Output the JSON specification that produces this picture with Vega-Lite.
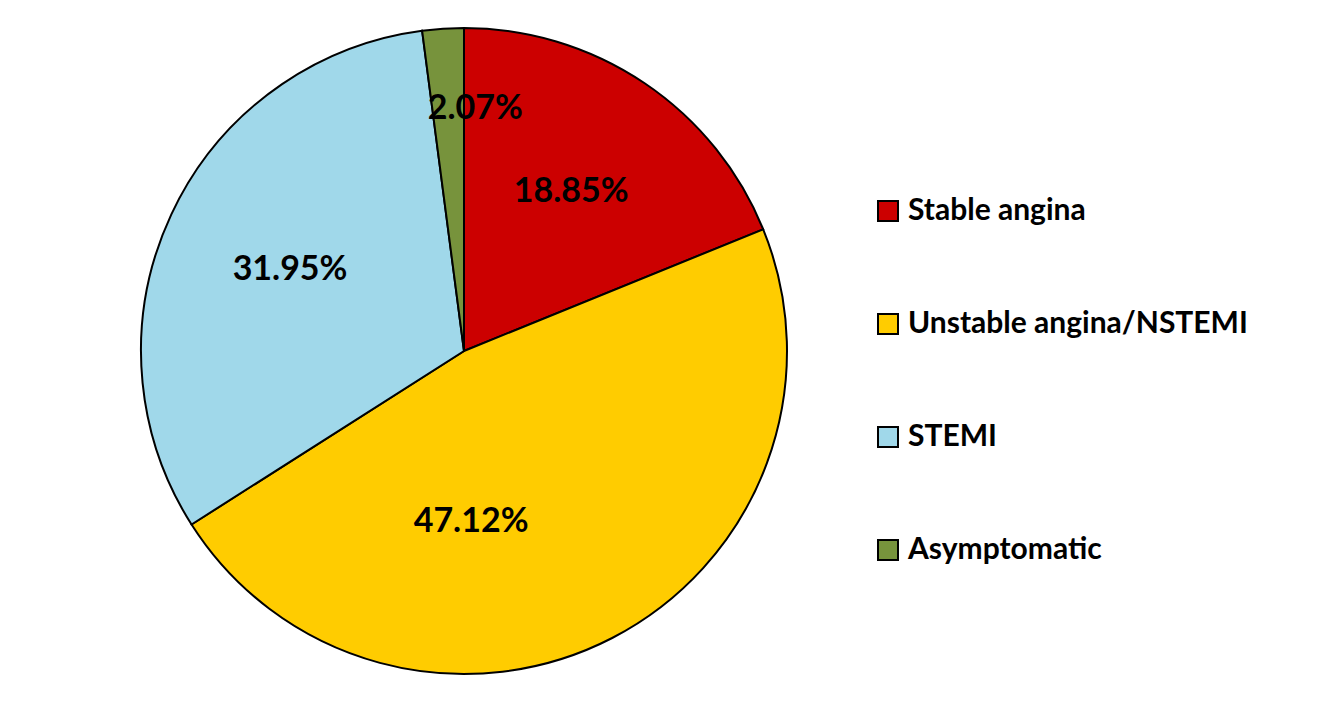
{
  "$schema": "https://vega.github.io/schema/vega-lite/v6.json",
  "width": 928,
  "height": 702,
  "autosize": {"type": "none"},
  "padding": {"left": 0, "top": 0, "right": 404, "bottom": 0},
  "background": "white",
  "config": {"view": {"stroke": null}, "font": "Lato"},
  "data": {
    "values": [
      {"category": "Stable angina", "value": 18.85, "label": "18.85%", "order": 1},
      {"category": "Unstable angina/NSTEMI", "value": 47.12, "label": "47.12%", "order": 2},
      {"category": "STEMI", "value": 31.95, "label": "31.95%", "order": 3},
      {"category": "Asymptomatic", "value": 2.07, "label": "2.07%", "order": 4}
    ]
  },
  "encoding": {
    "theta": {"field": "value", "type": "quantitative", "stack": true},
    "order": {"field": "order", "type": "quantitative"}
  },
  "layer": [
    {
      "mark": {"type": "arc", "outerRadius": 323, "stroke": "black", "strokeWidth": 2},
      "encoding": {
        "color": {
          "field": "category",
          "type": "nominal",
          "sort": ["Stable angina", "Unstable angina/NSTEMI", "STEMI", "Asymptomatic"],
          "scale": {
            "domain": ["Stable angina", "Unstable angina/NSTEMI", "STEMI", "Asymptomatic"],
            "range": ["#CC0000", "#FFCC00", "#A0D8EA", "#77933C"]
          },
          "legend": {
            "title": null,
            "orient": "none",
            "legendX": 873,
            "legendY": 196,
            "symbolType": "square",
            "symbolSize": 400,
            "symbolStrokeColor": "black",
            "symbolStrokeWidth": 2,
            "symbolOpacity": 1,
            "labelFont": "Lato",
            "labelFontSize": 30,
            "labelFontWeight": "bold",
            "labelColor": "black",
            "labelOffset": 5,
            "labelLimit": 420,
            "rowPadding": 83
          }
        }
      }
    },
    {
      "mark": {"type": "text", "radius": 192, "font": "Lato", "fontSize": 34, "fontWeight": "bold", "color": "black"},
      "encoding": {"text": {"condition": {"test": "datum.order == 1 || datum.order == 3", "field": "label"}, "value": ""}}
    },
    {
      "mark": {"type": "text", "radius": 192, "dx": -81, "font": "Lato", "fontSize": 34, "fontWeight": "bold", "color": "black"},
      "encoding": {"text": {"condition": {"test": "datum.order == 2", "field": "label"}, "value": ""}}
    },
    {
      "mark": {"type": "text", "radius": 243, "dx": 27, "font": "Lato", "fontSize": 34, "fontWeight": "bold", "color": "black"},
      "encoding": {"text": {"condition": {"test": "datum.order == 4", "field": "label"}, "value": ""}}
    }
  ]
}
